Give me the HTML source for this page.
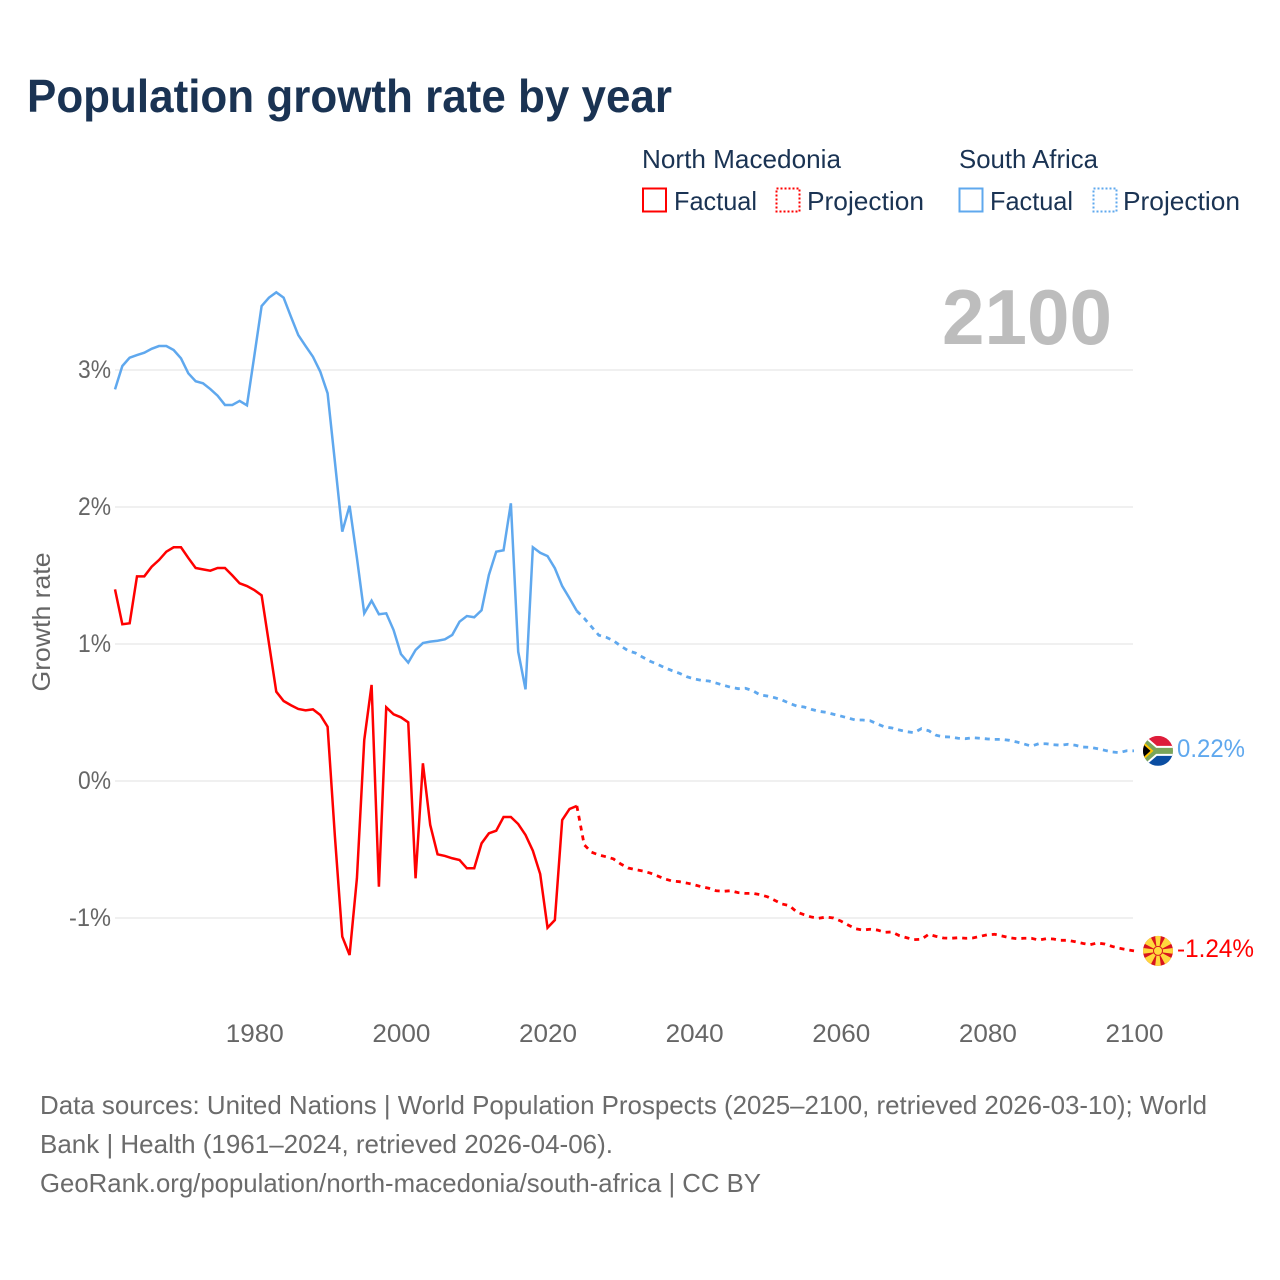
<!DOCTYPE html>
<html lang="en">
<head>
<meta charset="utf-8">
<title>Population growth rate by year</title>
<style>
html,body{margin:0;padding:0;background:#fff;}
svg{display:block;font-family:"Liberation Sans","DejaVu Sans",sans-serif;}
.leg{font-size:26px;fill:#1a3353;}
.foot{font-size:26px;fill:#6b6b6b;}
.tick{font-size:25px;fill:#666;}
</style>
</head>
<body>
<svg id="chart" xmlns="http://www.w3.org/2000/svg" width="1280" height="1280" viewBox="0 0 1280 1280">
  <rect x="0" y="0" width="1280" height="1280" fill="#fff"/>
  <text x="27" y="112" font-size="46" font-weight="700" fill="#1a3353" textLength="645" lengthAdjust="spacingAndGlyphs">Population growth rate by year</text>

  <g>
    <text class="leg" x="642" y="168" textLength="199" lengthAdjust="spacingAndGlyphs">North Macedonia</text>
    <text class="leg" x="959" y="168" textLength="139" lengthAdjust="spacingAndGlyphs">South Africa</text>
    <rect x="643" y="188.5" width="23" height="23" fill="none" stroke="#ff0000" stroke-width="2"/>
    <text class="leg" x="674" y="210" textLength="83" lengthAdjust="spacingAndGlyphs">Factual</text>
    <rect x="776.5" y="188.5" width="23" height="23" fill="none" stroke="#ff0000" stroke-width="2" stroke-dasharray="2 2"/>
    <text class="leg" x="807" y="210" textLength="117" lengthAdjust="spacingAndGlyphs">Projection</text>
    <rect x="959.5" y="188.5" width="23" height="23" fill="none" stroke="#5fa8ee" stroke-width="2"/>
    <text class="leg" x="990" y="210" textLength="83" lengthAdjust="spacingAndGlyphs">Factual</text>
    <rect x="1093.5" y="188.5" width="23" height="23" fill="none" stroke="#5fa8ee" stroke-width="2" stroke-dasharray="2 2"/>
    <text class="leg" x="1123" y="210" textLength="117" lengthAdjust="spacingAndGlyphs">Projection</text>
  </g>

  <text x="942" y="344" font-size="78" font-weight="700" fill="#bdbdbd" textLength="170" lengthAdjust="spacingAndGlyphs">2100</text>
  <text transform="translate(50,622) rotate(-90)" text-anchor="middle" font-size="25" fill="#666" textLength="139" lengthAdjust="spacingAndGlyphs">Growth rate</text>

  <g id="grid"></g>
  <g id="yticks"></g>
  <g id="xticks"></g>
  <g id="series"></g>

  <defs>
    <clipPath id="flag-clip"><circle cx="0" cy="0" r="15"/></clipPath>
  </defs>

  <g id="flag-za">
    <g clip-path="url(#flag-clip)">
      <rect x="-15" y="-15" width="30" height="15" fill="#de1c3a"/>
      <rect x="-15" y="0" width="30" height="15" fill="#0b4ea2"/>
      <path d="M-18,-13 L-3,0 L-18,13 M-3,0 L16,0" fill="none" stroke="#fff" stroke-width="10"/>
      <path d="M-18,-13 L-3,0 L-18,13 M-3,0 L16,0" fill="none" stroke="#7aa55a" stroke-width="6"/>
      <path d="M-16,-9 L-6,0 L-16,9 Z" fill="#000" stroke="#ffc400" stroke-width="2"/>
    </g>
  </g>
  <g id="flag-mk">
    <g clip-path="url(#flag-clip)">
      <rect x="-15" y="-15" width="30" height="30" fill="#d8141e"/>
      <g fill="#ffd83d">
        <path d="M-1,0 L1,0 L3,-16 L-3,-16 Z"/>
        <path d="M-1,0 L1,0 L3,16 L-3,16 Z"/>
        <path d="M0,-1 L0,1 L-16,3 L-16,-3 Z"/>
        <path d="M0,-1 L0,1 L16,3 L16,-3 Z"/>
        <path d="M0,0 L-8,-15 L-15,-8 Z"/>
        <path d="M0,0 L8,-15 L15,-8 Z"/>
        <path d="M0,0 L-8,15 L-15,8 Z"/>
        <path d="M0,0 L8,15 L15,8 Z"/>
      </g>
      <circle cx="0" cy="0" r="5" fill="#d8141e"/>
      <circle cx="0" cy="0" r="4" fill="#ffd83d"/>
    </g>
  </g>
  <text id="label-za" x="1177" font-size="25" fill="#5fa8ee" textLength="68" lengthAdjust="spacingAndGlyphs">0.22%</text>
  <text id="label-mk" x="1177" font-size="25" fill="#ff0000" textLength="77" lengthAdjust="spacingAndGlyphs">-1.24%</text>

  <g>
    <text class="foot" x="40" y="1114" textLength="1167" lengthAdjust="spacingAndGlyphs">Data sources: United Nations | World Population Prospects (2025–2100, retrieved 2026-03-10); World</text>
    <text class="foot" x="40" y="1153" textLength="573" lengthAdjust="spacingAndGlyphs">Bank | Health (1961–2024, retrieved 2026-04-06).</text>
    <text class="foot" x="40" y="1192" textLength="721" lengthAdjust="spacingAndGlyphs">GeoRank.org/population/north-macedonia/south-africa | CC BY</text>
  </g>
</svg>
<script>
const firstYear = 1961;
const lastFactualYear = 2024;
const xTickYears = [1980, 2000, 2020, 2040, 2060, 2080, 2100];
const yTickValues = [3, 2, 1, 0, -1];
const yTickLabels = ['3%', '2%', '1%', '0%', '-1%'];

const zaFactual = [2.859,3.029,3.090,3.109,3.126,3.155,3.175,3.175,3.146,3.085,2.976,2.918,2.903,2.861,2.812,2.745,2.745,2.774,2.742,3.102,
  3.467,3.528,3.567,3.528,3.389,3.255,3.175,3.097,2.988,2.830,2.328,1.820,2.009,1.628,1.224,1.316,1.217,1.224,1.102,0.927,
  0.864,0.956,1.007,1.017,1.024,1.034,1.066,1.163,1.204,1.195,1.246,1.504,1.674,1.684,2.027,0.944,0.669,1.706,1.666,1.642,
  1.553,1.423,1.334,1.241];
const zaProjection = [1.188,1.126,1.064,1.049,1.024,0.985,0.951,0.934,0.903,0.874,0.852,0.827,0.805,0.786,0.761,0.745,0.735,0.730,0.715,0.699,
  0.684,0.674,0.677,0.659,0.628,0.620,0.608,0.591,0.567,0.547,0.540,0.523,0.509,0.501,0.487,0.474,0.460,0.445,0.445,0.440,
  0.416,0.394,0.387,0.372,0.360,0.353,0.382,0.367,0.334,0.323,0.321,0.312,0.309,0.316,0.312,0.307,0.304,0.304,0.297,0.285,
  0.270,0.255,0.272,0.272,0.265,0.261,0.268,0.261,0.248,0.246,0.236,0.224,0.212,0.207,0.221,0.22];
const mkFactual = [1.399,1.144,1.151,1.494,1.494,1.564,1.613,1.674,1.706,1.706,1.628,1.555,1.545,1.535,1.555,1.555,1.501,1.443,1.423,1.394,
  1.355,1.005,0.652,0.584,0.553,0.526,0.516,0.523,0.482,0.396,-0.407,-1.136,-1.270,-0.710,0.299,0.701,-0.772,0.538,0.487,0.465,
  0.428,-0.710,0.129,-0.321,-0.535,-0.547,-0.564,-0.577,-0.637,-0.637,-0.455,-0.382,-0.363,-0.263,-0.263,-0.314,-0.394,-0.509,-0.679,-1.071,
  -1.015,-0.285,-0.204,-0.182];
const mkProjection = [-0.465,-0.520,-0.540,-0.553,-0.569,-0.606,-0.635,-0.647,-0.657,-0.672,-0.693,-0.715,-0.730,-0.735,-0.745,-0.757,-0.772,-0.783,-0.801,-0.805,
  -0.801,-0.815,-0.820,-0.820,-0.830,-0.845,-0.871,-0.898,-0.910,-0.956,-0.976,-0.993,-1.002,-0.993,-1.000,-1.022,-1.051,-1.078,-1.088,-1.082,
  -1.088,-1.104,-1.102,-1.129,-1.144,-1.158,-1.155,-1.119,-1.134,-1.146,-1.148,-1.144,-1.148,-1.146,-1.134,-1.122,-1.119,-1.131,-1.144,-1.151,
  -1.148,-1.148,-1.161,-1.151,-1.153,-1.163,-1.163,-1.173,-1.185,-1.195,-1.182,-1.190,-1.207,-1.221,-1.231,-1.24];

const NS = 'http://www.w3.org/2000/svg';
function xScale(year) { return 115 + (year - firstYear) * (1134 - 115) / (2100 - 1961); }
function yScale(v) { return 781 - v * 137; }

function makeEl(tag, parent, attrs) {
  const el = document.createElementNS(NS, tag);
  for (const k in attrs) el.setAttribute(k, attrs[k]);
  parent.appendChild(el);
  return el;
}

function pathFrom(values, startYear) {
  return values.map(function (v, i) {
    return (i ? 'L' : 'M') + xScale(startYear + i).toFixed(2) + ',' + yScale(v).toFixed(2);
  }).join(' ');
}

const gridGroup = document.getElementById('grid');
const yTickGroup = document.getElementById('yticks');
yTickValues.forEach(function (v, i) {
  const line = makeEl('line', gridGroup, { x1: 115, x2: 1133, y1: yScale(v), y2: yScale(v), stroke: '#ececec', 'stroke-width': 1.5 });
  
  
  const t = makeEl('text', yTickGroup, { x: 111, y: yScale(v) + 8, 'text-anchor': 'end', class: 'tick', textLength: yTickLabels[i].length > 2 ? 42 : 33, lengthAdjust: 'spacingAndGlyphs' });
  t.textContent = yTickLabels[i];
  
  
});

const xTickGroup = document.getElementById('xticks');
xTickYears.forEach(function (yr) {
  const t = makeEl('text', xTickGroup, { x: xScale(yr) + 0.5, y: 1042, 'text-anchor': 'middle', class: 'tick', textLength: 58, lengthAdjust: 'spacingAndGlyphs' });
  t.textContent = String(yr);
  
  
});

const seriesGroup = document.getElementById('series');
function drawSeries(factual, projection, color, prefix) {
  const solid = makeEl('path', seriesGroup, { d: pathFrom(factual, firstYear), fill: 'none', stroke: color, 'stroke-width': 2.5, 'stroke-linejoin': 'miter' });
  
  
  const joined = [factual[factual.length - 1]].concat(projection);
  const dashed = makeEl('path', seriesGroup, { d: pathFrom(joined, lastFactualYear), fill: 'none', stroke: color, 'stroke-width': 2.8, 'stroke-dasharray': '5 5' });
  
  
  return prefix;
}
drawSeries(zaFactual, zaProjection, '#5fa8ee', 'za');
drawSeries(mkFactual, mkProjection, '#ff0000', 'mk');

const zaEnd = yScale(zaProjection[zaProjection.length - 1]);
const mkEnd = yScale(mkProjection[mkProjection.length - 1]);
document.getElementById('flag-za').setAttribute('transform', 'translate(1158,' + zaEnd + ')');
document.getElementById('flag-mk').setAttribute('transform', 'translate(1158,' + mkEnd + ')');
document.getElementById('label-za').setAttribute('y', zaEnd + 6);
document.getElementById('label-mk').setAttribute('y', mkEnd + 6);
</script>
</body>
</html>
